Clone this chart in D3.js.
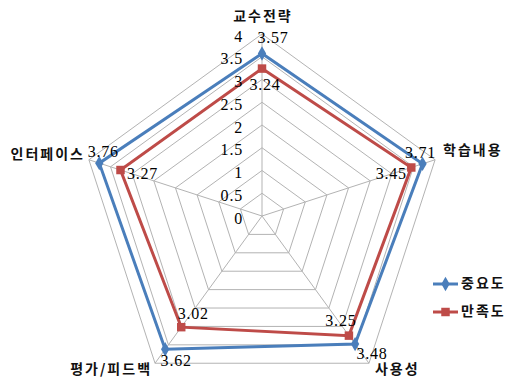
<!DOCTYPE html>
<html>
<head>
<meta charset="utf-8">
<script src="https://cdn.jsdelivr.net/npm/d3@7"></script>
<style>
  html, body { margin: 0; padding: 0; background: #fff; }
  svg { display: block; }
  .num { font-family: "Liberation Serif", "DejaVu Serif", serif; font-size: 16px; fill: #000; letter-spacing: 0.8px; }
  .cat { font-family: "Noto Sans CJK KR", sans-serif; font-size: 14px; font-weight: bold; fill: #111; letter-spacing: 2px; }
</style>
</head>
<body>
<svg id="chart" width="510" height="380"></svg>
<script>
// Axes of the radar, clockwise from the top
const categories = ["교수전략", "학습내용", "사용성", "평가/피드백", "인터페이스"];
const importance = [3.57, 3.71, 3.48, 3.62, 3.76];   // 중요도
const satisfaction = [3.24, 3.45, 3.25, 3.02, 3.27]; // 만족도
const seriesNames = ["중요도", "만족도"];
const tickValues = [0, 0.5, 1, 1.5, 2, 2.5, 3, 3.5, 4];

const svg = d3.select("#chart");
const cx = 262, cy = 216;
const r = d3.scaleLinear().domain([0, 4]).range([0, 182]);
const angle = d3.scaleLinear().domain([0, categories.length]).range([0, 2 * Math.PI]);

const pt = (i, v) => [cx + r(v) * Math.sin(angle(i)), cy - r(v) * Math.cos(angle(i))];

const gridColor = "#b3b3b3";
const radial = d3.lineRadial()
  .angle((d, i) => angle(i))
  .radius(d => r(d))
  .curve(d3.curveLinearClosed);

const g = svg.append("g").attr("transform", `translate(${cx},${cy})`);

// concentric pentagon rings
g.selectAll("path.ring")
  .data(tickValues.filter(t => t > 0))
  .join("path")
  .attr("class", "ring")
  .attr("d", t => radial(categories.map(() => t)))
  .attr("fill", "none")
  .attr("stroke", gridColor)
  .attr("stroke-width", 1);

// spokes
g.selectAll("line.spoke")
  .data(categories)
  .join("line")
  .attr("class", "spoke")
  .attr("x1", 0).attr("y1", 0)
  .attr("x2", (d, i) => r(4) * Math.sin(angle(i)))
  .attr("y2", (d, i) => -r(4) * Math.cos(angle(i)))
  .attr("stroke", gridColor)
  .attr("stroke-width", 1);

// scale labels along the top spoke
svg.selectAll("text.tick")
  .data(tickValues)
  .join("text")
  .attr("class", "num")
  .attr("x", cx - 19)
  .attr("y", t => cy - r(t) + 4)
  .attr("text-anchor", "end")
  .attr("dominant-baseline", "middle")
  .text(t => t);

// series
const series = [
  { name: seriesNames[0], values: importance, color: "#4a7ebb", marker: "diamond" },
  { name: seriesNames[1], values: satisfaction, color: "#be4b48", marker: "square" }
];

const markerPath = {
  diamond: d3.symbol().type(d3.symbolDiamond).size(60)(),
  square: d3.symbol().type(d3.symbolSquare).size(72)()
};

series.forEach(s => {
  g.append("path")
    .attr("d", radial(s.values))
    .attr("fill", "none")
    .attr("stroke", s.color)
    .attr("stroke-width", 3)
    .attr("stroke-linejoin", "miter");
});
series.forEach(s => {
  svg.append("g").selectAll("path")
    .data(s.values)
    .join("path")
    .attr("d", markerPath[s.marker])
    .attr("transform", (v, i) => `translate(${pt(i, v)[0]},${pt(i, v)[1]})`)
    .attr("fill", s.color);
});

// value labels, offset from each marker
const importanceOffsets = [[11, -14], [-2, -10], [17, 11], [11, 13], [4, -10]];
const satisfactionOffsets = [[3, 18], [-20, 8], [-8, -13], [12, -12], [22, 5]];
[[importance, importanceOffsets], [satisfaction, satisfactionOffsets]].forEach(([vals, offs]) => {
  svg.append("g").selectAll("text")
    .data(vals)
    .join("text")
    .attr("class", "num")
    .attr("x", (v, i) => pt(i, v)[0] + offs[i][0])
    .attr("y", (v, i) => pt(i, v)[1] + offs[i][1])
    .attr("text-anchor", "middle")
    .attr("dominant-baseline", "middle")
    .text(v => v.toFixed(2));
});

// category labels around the outer ring
const catPlace = [
  { dx: 1, dy: -17, anchor: "middle" },
  { dx: 8, dy: -9, anchor: "start" },
  { dx: 6, dy: 7, anchor: "start" },
  { dx: -3, dy: 7, anchor: "end" },
  { dx: -4, dy: -5, anchor: "end" }
];
svg.selectAll("text.cat")
  .data(categories)
  .join("text")
  .attr("class", "cat")
  .attr("x", (d, i) => pt(i, 4)[0] + catPlace[i].dx)
  .attr("y", (d, i) => pt(i, 4)[1] + catPlace[i].dy)
  .attr("text-anchor", (d, i) => catPlace[i].anchor)
  .attr("dominant-baseline", "middle")
  .text(d => d);

// legend
const legend = svg.append("g").attr("transform", "translate(433,284)");
series.forEach((s, i) => {
  const row = legend.append("g").attr("transform", `translate(0,${i * 28})`);
  row.append("line").attr("x1", 0).attr("x2", 25).attr("y1", 0).attr("y2", 0)
    .attr("stroke", s.color).attr("stroke-width", 3);
  row.append("path").attr("d", markerPath[s.marker])
    .attr("transform", "translate(12.5,0)").attr("fill", s.color);
  row.append("text").attr("class", "cat").attr("x", 28).attr("y", 0)
    .attr("dominant-baseline", "middle").text(s.name);
});
</script>
</body>
</html>
